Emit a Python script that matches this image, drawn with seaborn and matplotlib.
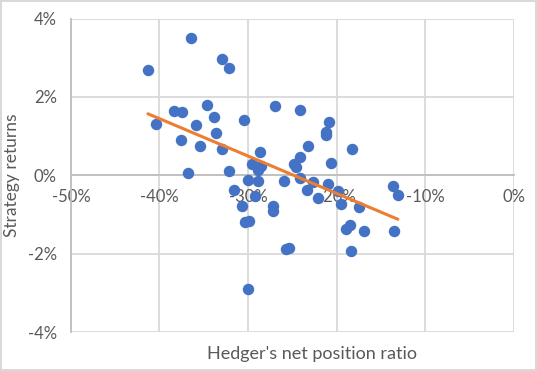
#%% imports
import matplotlib
matplotlib.use("Agg")
import matplotlib.pyplot as plt
import seaborn as sns
import pandas as pd
from matplotlib.ticker import FuncFormatter

#%% data (percent)
net_position = [-41.3, -40.4, -36.4, -32.9, -32.2, -38.4, -37.5, -34.6, -33.9, -35.9,
                -33.6, -37.6, -35.4, -32.9, -36.8, -32.2, -31.6, -30.5, -27.0, -24.1,
                -20.9, -21.2, -21.2, -23.2, -18.3, -28.6, -29.6, -28.5, -28.9, -24.1,
                -24.8, -24.6, -20.6, -30.0, -28.9, -25.9, -24.1, -22.7, -21.0, -19.9,
                -23.3, -22.1, -29.2, -30.7, -27.2, -27.2, -30.4, -29.9, -19.5, -17.5,
                -13.6, -13.1, -13.5, -16.9, -18.5, -19.0, -18.4, -25.7, -25.4, -30.0]
strategy_ret = [2.68, 1.30, 3.50, 2.98, 2.74, 1.64, 1.62, 1.80, 1.49, 1.28,
                1.08, 0.90, 0.74, 0.67, 0.07, 0.11, -0.37, 1.41, 1.77, 1.67,
                1.37, 1.11, 1.03, 0.74, 0.66, 0.59, 0.28, 0.24, 0.13, 0.46,
                0.28, 0.22, 0.32, -0.11, -0.14, -0.14, -0.06, -0.17, -0.22, -0.39,
                -0.37, -0.58, -0.52, -0.78, -0.78, -0.91, -1.20, -1.17, -0.73, -0.81,
                -0.27, -0.50, -1.43, -1.43, -1.26, -1.38, -1.94, -1.87, -1.85, -2.90]
x_ticks = [-50, -40, -30, -20, -10, 0]
y_ticks = [-4, -2, 0, 2, 4]

df = pd.DataFrame({"ratio": net_position, "ret": strategy_ret})

#%% style
sns.set_theme(style="white")
plt.rcParams['font.family'] = ['Lato', 'DejaVu Sans']
text_col = "#595959"
grid_col = "#D9D9D9"
axis_col = "#BFBFBF"

fig = plt.figure(figsize=(5.37, 3.71), dpi=100)
fig.patch.set_edgecolor("#D9D9D9")
fig.patch.set_linewidth(1.5)
ax = fig.add_axes([0.132, 0.105, 0.825, 0.845])

sns.scatterplot(data=df, x="ratio", y="ret", ax=ax, color="#4472C4", s=68,
                linewidth=0, zorder=3)
sns.regplot(data=df, x="ratio", y="ret", ax=ax, scatter=False, ci=None,
            line_kws={"color": "#ED7D31", "lw": 2.2, "zorder": 4})

ax.set_xlim(-50, 0)
ax.set_ylim(-4, 4)
ax.set_xticks(x_ticks)
ax.set_yticks(y_ticks)
ax.xaxis.set_major_formatter(FuncFormatter(lambda v, p: f"{v:.0f}%"))
ax.yaxis.set_major_formatter(FuncFormatter(lambda v, p: f"{v:.0f}%"))
ax.grid(True, color=grid_col, lw=1.3, zorder=0)
ax.set_axisbelow(True)

for s in ["top", "right"]:
    ax.spines[s].set_visible(False)
ax.spines["left"].set_color(axis_col)
ax.spines["left"].set_linewidth(1.3)
ax.spines["bottom"].set_position(("data", 0))
ax.spines["bottom"].set_color(axis_col)
ax.spines["bottom"].set_linewidth(1.3)
ax.tick_params(axis="both", length=0, labelsize=12, labelcolor=text_col)
ax.tick_params(axis="x", pad=10)
ax.tick_params(axis="y", pad=10)

ax.set_xlabel("")
ax.set_ylabel("")
fig.text(12 / 537, 1 - 175 / 371, "Strategy returns", fontsize=12.5,
         color=text_col, ha="center", va="center", rotation=90)
fig.text(312 / 537, 1 - 354 / 371, "Hedger's net position ratio", fontsize=13,
         color=text_col, ha="center", va="center")

fig.savefig("out.png", dpi=100)
